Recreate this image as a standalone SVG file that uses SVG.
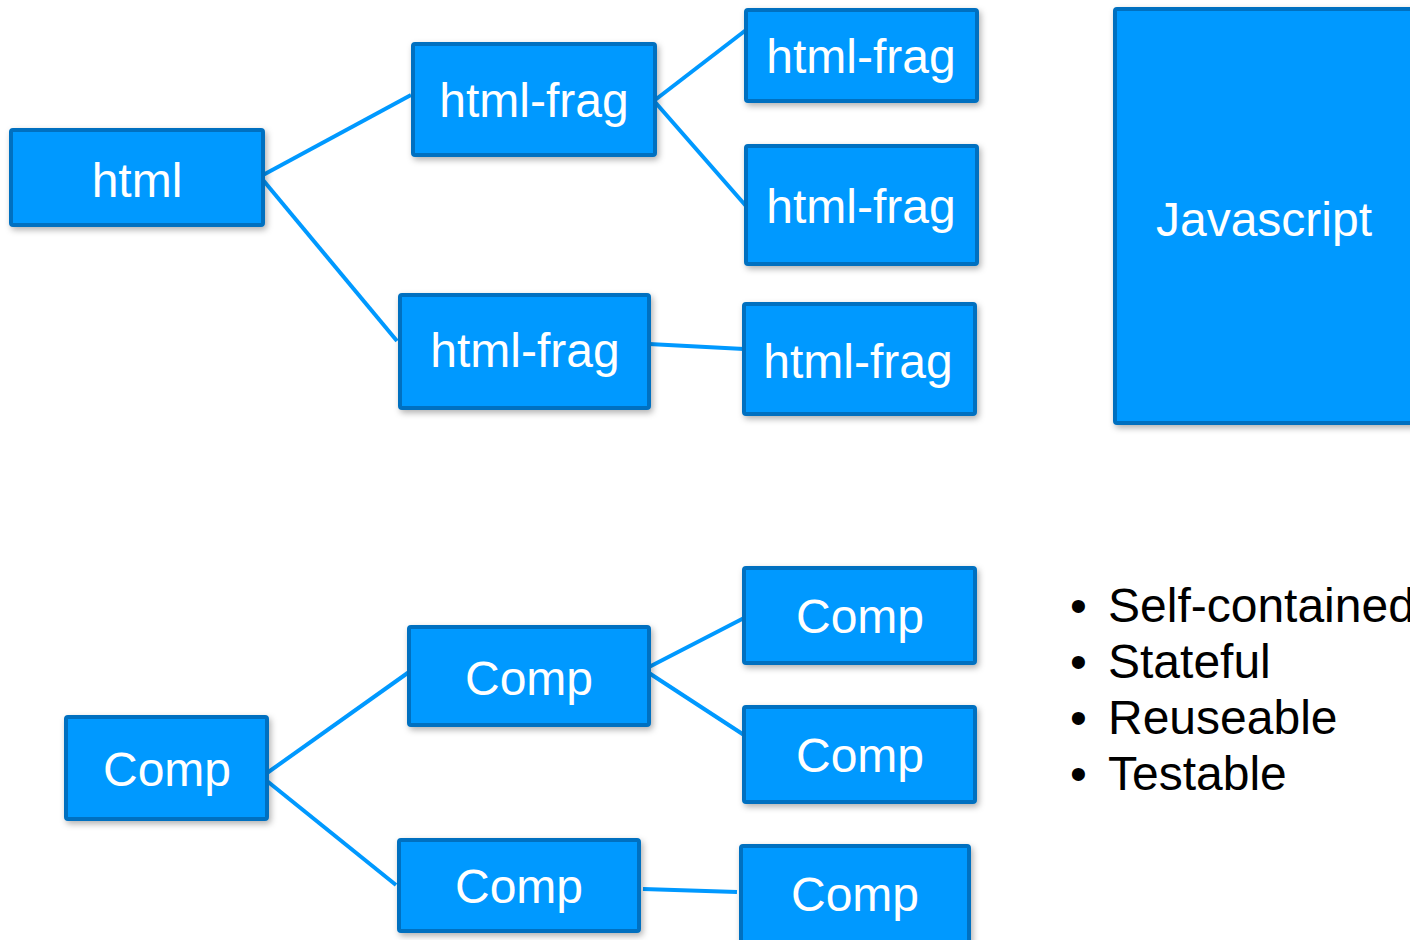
<svg xmlns="http://www.w3.org/2000/svg" width="1410" height="940" viewBox="0 0 1410 940">
<defs>
<filter id="sh" x="-10%" y="-10%" width="130%" height="130%">
<feDropShadow dx="2" dy="3" stdDeviation="3" flood-color="#000" flood-opacity="0.3"/>
</filter>
<style>
.box{fill:#0099FF;stroke:#0070C0;stroke-width:4;filter:url(#sh)}
.lbl{fill:#fff;font-family:"Liberation Sans",Arial,sans-serif;font-size:48px;text-anchor:middle}
.con{stroke:#0099FF;stroke-width:4;fill:none}
.bul{fill:#000;font-family:"Liberation Sans",Arial,sans-serif;font-size:48px}
</style>
</defs>
<rect width="1410" height="940" fill="#fff"/>
<g id="connectors">
<line class="con" x1="263" y1="175" x2="411" y2="95"/>
<line class="con" x1="263" y1="180" x2="397" y2="341"/>
<line class="con" x1="655" y1="100" x2="746" y2="30"/>
<line class="con" x1="655" y1="102" x2="746" y2="206"/>
<line class="con" x1="649" y1="344" x2="744" y2="349"/>
<line class="con" x1="267" y1="773" x2="409" y2="672"/>
<line class="con" x1="267" y1="781" x2="396" y2="885"/>
<line class="con" x1="649" y1="667" x2="744" y2="618"/>
<line class="con" x1="649" y1="673" x2="744" y2="735"/>
<line class="con" x1="643" y1="889" x2="737" y2="892"/>
</g>
<g id="n-html"><rect class="box" x="11" y="130" width="252" height="95" rx="2"/><text class="lbl" x="137" y="197">html</text></g>
<g id="n-frag1"><rect class="box" x="413" y="44" width="242" height="111" rx="2"/><text class="lbl" x="534" y="117">html-frag</text></g>
<g id="n-frag1a"><rect class="box" x="746" y="10" width="231" height="91" rx="2"/><text class="lbl" x="861" y="73">html-frag</text></g>
<g id="n-frag1b"><rect class="box" x="746" y="146" width="231" height="118" rx="2"/><text class="lbl" x="861" y="223">html-frag</text></g>
<g id="n-frag2"><rect class="box" x="400" y="295" width="249" height="113" rx="2"/><text class="lbl" x="525" y="367">html-frag</text></g>
<g id="n-frag2a"><rect class="box" x="744" y="304" width="231" height="110" rx="2"/><text class="lbl" x="858" y="378">html-frag</text></g>
<g id="n-js"><rect class="box" x="1115" y="9" width="310" height="414" rx="2"/><text class="lbl" x="1264" y="236">Javascript</text></g>
<g id="n-comp"><rect class="box" x="66" y="717" width="201" height="102" rx="2"/><text class="lbl" x="167" y="786">Comp</text></g>
<g id="n-comp1"><rect class="box" x="409" y="627" width="240" height="98" rx="2"/><text class="lbl" x="529" y="695">Comp</text></g>
<g id="n-comp1a"><rect class="box" x="744" y="568" width="231" height="95" rx="2"/><text class="lbl" x="860" y="633">Comp</text></g>
<g id="n-comp1b"><rect class="box" x="744" y="707" width="231" height="95" rx="2"/><text class="lbl" x="860" y="772">Comp</text></g>
<g id="n-comp2"><rect class="box" x="399" y="840" width="240" height="91" rx="2"/><text class="lbl" x="519" y="903">Comp</text></g>
<g id="n-comp2a"><rect class="box" x="741" y="846" width="228" height="110" rx="2"/><text class="lbl" x="855" y="911">Comp</text></g>
<g id="bullets">
<text class="bul" x="1070" y="622">•</text><text class="bul" x="1108" y="622">Self-contained</text>
<text class="bul" x="1070" y="678">•</text><text class="bul" x="1108" y="678">Stateful</text>
<text class="bul" x="1070" y="734">•</text><text class="bul" x="1108" y="734">Reuseable</text>
<text class="bul" x="1070" y="790">•</text><text class="bul" x="1108" y="790">Testable</text>
</g>
</svg>
